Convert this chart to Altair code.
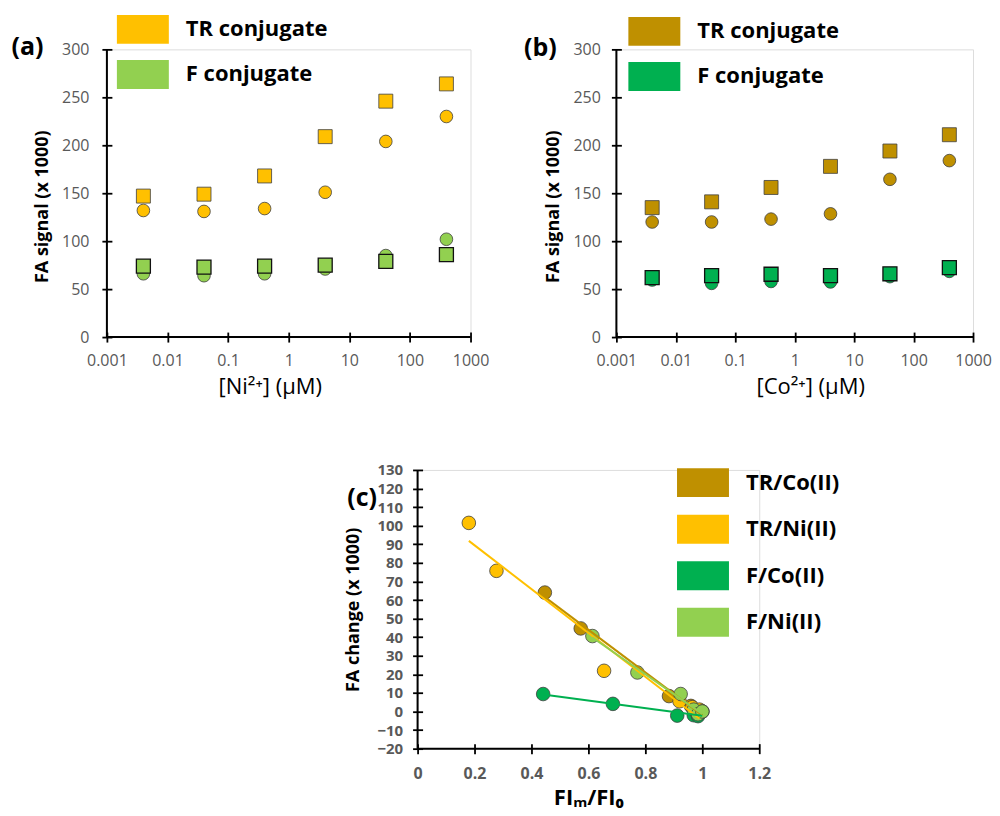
import altair as alt
import pandas as pd

FONT = "Open Sans"
GREY = "#595959"

# ---------------- data: panels (a) and (b) ----------------
conc = [0.004, 0.04, 0.4, 4, 40, 400]
ni_tr_sq = [147, 149, 168, 209, 246, 264]
ni_tr_ci = [132, 131, 134, 151, 204, 230]
ni_f_sq = [74, 73, 74, 75, 79, 86]
ni_f_ci = [66, 64, 66, 71, 85, 102]
co_tr_sq = [135, 141, 156, 178, 194, 211]
co_tr_ci = [120, 120, 123, 128.5, 164.5, 184]
co_f_sq = [62, 64, 65.5, 64, 66, 72.5]
co_f_ci = [59.5, 56, 58, 57.5, 63, 68.5]

conj_names = ["TR conjugate", "F conjugate"]
ni_colors = ["#FFC000", "#92D050"]
co_colors = ["#BF9000", "#00B050"]
x_ticks = [0.001, 0.01, 0.1, 1, 10, 100, 1000]
y_ticks = [0, 50, 100, 150, 200, 250, 300]

# ---------------- data: panel (c) ----------------
c_series = ["TR/Co(II)", "TR/Ni(II)", "F/Co(II)", "F/Ni(II)"]
c_colors = ["#BF9000", "#FFC000", "#00B050", "#92D050"]
tr_co_x = [0.447, 0.573, 0.883, 0.96, 0.985, 1.0]
tr_co_y = [64, 44.7, 8.3, 3, 0.5, 0]
tr_ni_x = [0.18, 0.277, 0.655, 0.92, 0.965, 0.99]
tr_ni_y = [101.5, 75.7, 21.9, 5.5, 2.3, 1]
f_co_x = [0.441, 0.686, 0.912, 0.97, 0.985, 1.0]
f_co_y = [9.4, 4.1, -2.2, -2, -2.5, 0]
f_ni_x = [0.614, 0.772, 0.924, 0.97, 0.985, 1.0]
f_ni_y = [40.6, 21, 9.4, 1, -1.5, 0]
c_x_ticks = [0, 0.2, 0.4, 0.6, 0.8, 1, 1.2]
c_y_ticks = [-20, -10, 0, 10, 20, 30, 40, 50, 60, 70, 80, 90, 100, 110, 120, 130]

RECT = "M-1.3,-0.725H1.3V0.725H-1.3Z"


def axis(label_pad, label_bold=False, label_size=16, **kw):
    return alt.Axis(grid=False, domain=False, offset=-5, tickSize=10,
                    tickColor="black", tickWidth=1.8, labelFont=FONT,
                    labelColor=GREY, labelFontSize=label_size,
                    labelFontWeight="bold" if label_bold else "normal",
                    labelPadding=label_pad, labelFlush=False, labelOverlap=False,
                    titleFont=FONT, titleColor="black", **kw)


def legend(lx, ly, row_pad):
    return alt.Legend(orient="none", legendX=lx, legendY=ly, direction="vertical",
                      title=None, symbolType=RECT, symbolSize=1600,
                      symbolStrokeWidth=0, symbolOpacity=1, padding=0,
                      labelFont=FONT, labelFontSize=22, labelFontWeight="bold",
                      labelColor="black", labelOffset=23, rowPadding=row_pad)


def top_panel(tag, tr_sq, tr_ci, f_sq, f_ci, colors, xtitle, title_x, ylab_pad,
              lx, ly, width, tag_dx, tag_dy):
    rows = []
    for c, a, b, d, e in zip(conc, tr_sq, tr_ci, f_sq, f_ci):
        rows.append(dict(x=c, y=b, conj=conj_names[0], kind="circle"))
        rows.append(dict(x=c, y=e, conj=conj_names[1], kind="circle"))
        rows.append(dict(x=c, y=a, conj=conj_names[0], kind="square"))
        rows.append(dict(x=c, y=d, conj=conj_names[1], kind="square"))
    df = pd.DataFrame(rows)
    xenc = alt.X("x:Q", scale=alt.Scale(type="log", domain=[0.001, 1000], nice=False),
                 axis=axis(10, values=x_ticks, format="~g", titleFontSize=22,
                           titleFontWeight="normal", titleX=title_x, titlePadding=8),
                 title=xtitle)
    yenc = alt.Y("y:Q", scale=alt.Scale(domain=[0, 300], nice=False),
                 axis=axis(ylab_pad, values=y_ticks, titleFontSize=18,
                           titleFontWeight="bold", titleY=157, titlePadding=10),
                 title="FA signal (x 1000)")
    col = alt.Color("conj:N", scale=alt.Scale(domain=conj_names, range=colors),
                    legend=legend(lx, ly, 10.1))
    dom = pd.DataFrame({"x": [0.001, 0.001], "x2": [1000, 0.001],
                        "y": [0, 0], "y2": [0, 300]})
    rules = alt.Chart(dom).mark_rule(color="black", strokeWidth=2).encode(
        x=xenc, x2="x2:Q", y=yenc, y2="y2:Q")
    circles = alt.Chart(df).transform_filter(alt.datum.kind == "circle").mark_circle(
        size=160, opacity=1, stroke="#404040", strokeWidth=0.8).encode(x=xenc, y=yenc, color=col)
    sq_f = alt.Chart(df).transform_filter(
        (alt.datum.kind == "square") & (alt.datum.conj == "F conjugate")).mark_square(
        size=196, opacity=1, stroke="#111111", strokeWidth=1.3).encode(x=xenc, y=yenc, color=col)
    sq_tr = alt.Chart(df).transform_filter(
        (alt.datum.kind == "square") & (alt.datum.conj == "TR conjugate")).mark_square(
        size=196, opacity=1, stroke="#404040", strokeWidth=0.8).encode(x=xenc, y=yenc, color=col)
    lab = alt.Chart(pd.DataFrame({"x": [0.001], "y": [300], "t": [tag]})).mark_text(
        font=FONT, fontSize=25, fontWeight="bold", color="black", dx=tag_dx, dy=tag_dy,
        align="center", baseline="middle").encode(x=xenc, y=yenc, text="t:N")
    return alt.layer(rules, circles, sq_tr, sq_f, lab).properties(width=width, height=288)


pa = top_panel("(a)", ni_tr_sq, ni_tr_ci, ni_f_sq, ni_f_ci, ni_colors,
               "[Ni²⁺] (μM)", 163, 13, 16, -40, 364, -79.5, -2.5)
pb = top_panel("(b)", co_tr_sq, co_tr_ci, co_f_sq, co_f_ci, co_colors,
               "[Co²⁺] (μM)", 194, 11, 18, -38, 357, -76, -1.5)

# ---------------- panel (c) ----------------
crow = []
for s, xs, ys in zip(c_series, [tr_co_x, tr_ni_x, f_co_x, f_ni_x],
                     [tr_co_y, tr_ni_y, f_co_y, f_ni_y]):
    for xv, yv in zip(xs, ys):
        crow.append(dict(x=xv, y=yv, series=s))
cdf = pd.DataFrame(crow)

cx = alt.X("x:Q", scale=alt.Scale(domain=[0, 1.2], nice=False),
           axis=axis(12, label_bold=True, values=c_x_ticks, format="~g", titleFontSize=22,
                     titleFontWeight="bold", titlePadding=6),
           title="FIₘ/FI₀")
cy = alt.Y("y:Q", scale=alt.Scale(domain=[-20, 130], nice=False),
           axis=axis(10, label_bold=True, label_size=15, values=c_y_ticks, titleFontSize=18,
                     titleFontWeight="bold", titlePadding=14),
           title="FA change (x 1000)")
cdom = pd.DataFrame({"x": [0, 0], "x2": [1.2, 0], "y": [-20, -20], "y2": [-20, 130]})
crules = alt.Chart(cdom).mark_rule(color="black", strokeWidth=2).encode(
    x=cx, x2="x2:Q", y=cy, y2="y2:Q")
cpts = alt.Chart(cdf).mark_circle(size=185, opacity=1, stroke="#404040", strokeWidth=0.8).encode(
    x=cx, y=cy,
    color=alt.Color("series:N", scale=alt.Scale(domain=c_series, range=c_colors),
                    legend=legend(265.7, -7.3, 11.6)))
clines = alt.Chart(cdf).transform_regression("x", "y", groupby=["series"]).mark_line(
    strokeWidth=2).encode(
    x=cx, y=cy,
    stroke=alt.Stroke("series:N", scale=alt.Scale(domain=c_series, range=c_colors), legend=None))
clab = alt.Chart(pd.DataFrame({"x": [0], "y": [130], "t": ["(c)"]})).mark_text(
    font=FONT, fontSize=25, fontWeight="bold", color="black", dx=-55.5, dy=28.5,
    align="center", baseline="middle").encode(x=cx, y=cy, text="t:N")
pc = alt.layer(crules, cpts, clines, clab).properties(width=342, height=279)

spacer = alt.Chart(pd.DataFrame({"v": [0]})).mark_point(opacity=0).properties(width=300, height=279)

RES = dict(color="independent", x="independent", y="independent", stroke="independent")
top = alt.hconcat(pa, pb, spacing=146, bounds="flush").resolve_scale(**RES)
bottom = alt.hconcat(spacer, pc, spacing=11, bounds="flush").resolve_scale(**RES)
chart = alt.vconcat(top, bottom, spacing=64).resolve_scale(**RES).properties(
    padding={"left": 2, "top": 0, "right": 0, "bottom": 0})
chart = chart.configure_view(stroke=None).configure(font=FONT)

chart.save("out.html", embed_options={"renderer": "svg", "actions": False})
